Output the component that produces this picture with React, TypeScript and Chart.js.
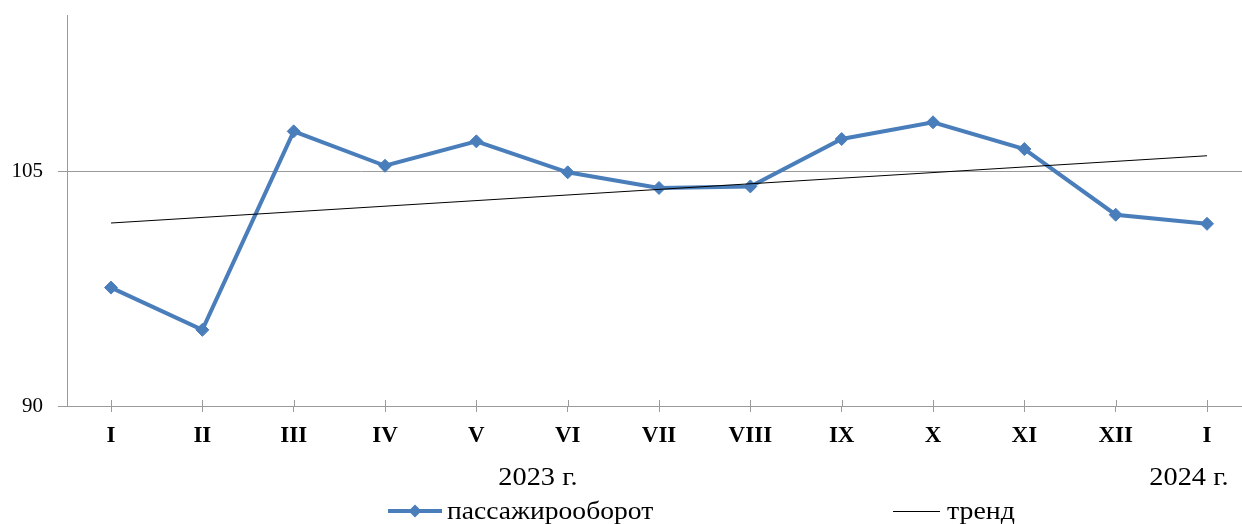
import React, { useEffect, useRef } from 'react';
import { Chart, registerables } from 'chart.js';

Chart.register(...registerables);

// ---- data ----
const months = ['I', 'II', 'III', 'IV', 'V', 'VI', 'VII', 'VIII', 'IX', 'X', 'XI', 'XII', 'I'];
const passengerTurnover = [97.57, 94.87, 107.56, 105.36, 106.92, 104.94, 103.94, 104.04, 107.07, 108.14, 106.43, 102.23, 101.65];
const trendEnds = [101.7, 106.0];
const yTickValues = [90, 105];
const yearLabels = ['2023 г.', '2024 г.'];
const seriesNames = ['пассажирооборот', 'тренд'];

// ---- style ----
const BLUE = '#4A7EBB';
const GRID = '#9b9b9b';
const SERIF = '"Liberation Serif", "Times New Roman", serif';

function stretchedText(ctx: CanvasRenderingContext2D, text: string, x: number, y: number, sx: number, align: 'left' | 'center') {
  ctx.save();
  ctx.translate(x, y);
  ctx.scale(sx, 1);
  ctx.textAlign = align;
  ctx.fillText(text, 0, 0);
  ctx.restore();
}

const decorPlugin = {
  id: 'decor',
  beforeDatasetsDraw(chart: any) {
    const { ctx, chartArea } = chart;
    const x = chart.scales.x;
    ctx.save();
    ctx.strokeStyle = GRID;
    ctx.lineWidth = 1;
    x.ticks.forEach((t: any) => {
      const px = Math.round(x.getPixelForValue(t.value)) + 0.5;
      ctx.beginPath();
      ctx.moveTo(px, chartArea.bottom - 6);
      ctx.lineTo(px, chartArea.bottom);
      ctx.stroke();
    });
    ctx.restore();
  },
  afterDraw(chart: any) {
    const { ctx } = chart;
    ctx.save();
    ctx.fillStyle = '#000';
    ctx.textBaseline = 'alphabetic';
    ctx.font = `26px ${SERIF}`;
    stretchedText(ctx, yearLabels[0], 538, 485, 1.09, 'center');
    stretchedText(ctx, yearLabels[1], 1189, 485, 1.09, 'center');

    // legend
    const ly = 511;
    ctx.strokeStyle = BLUE;
    ctx.lineWidth = 4;
    ctx.beginPath();
    ctx.moveTo(388, ly);
    ctx.lineTo(442, ly);
    ctx.stroke();
    ctx.fillStyle = BLUE;
    const r = 6.5;
    ctx.beginPath();
    ctx.moveTo(415 - r, ly);
    ctx.lineTo(415, ly - r);
    ctx.lineTo(415 + r, ly);
    ctx.lineTo(415, ly + r);
    ctx.closePath();
    ctx.fill();

    ctx.strokeStyle = '#000';
    ctx.lineWidth = 1;
    ctx.beginPath();
    ctx.moveTo(893, ly + 0.5);
    ctx.lineTo(940, ly + 0.5);
    ctx.stroke();

    ctx.fillStyle = '#000';
    stretchedText(ctx, seriesNames[0], 447, 519, 1.06, 'left');
    stretchedText(ctx, seriesNames[1], 947, 519, 1.07, 'left');
    ctx.restore();
  },
};

export default function App() {
  const ref = useRef<HTMLCanvasElement | null>(null);

  useEffect(() => {
    if (!ref.current) return;
    const last = months.length - 1;
    const chart = new Chart(ref.current, {
      type: 'line',
      data: {
        datasets: [
          {
            label: seriesNames[0],
            data: passengerTurnover.map((v, i) => ({ x: i, y: v })),
            borderColor: BLUE,
            backgroundColor: BLUE,
            borderWidth: 4,
            pointStyle: 'rectRot',
            pointRadius: 6.5,
            pointBorderWidth: 1,
            pointBackgroundColor: BLUE,
            pointBorderColor: BLUE,
            tension: 0,
            order: 2,
          },
          {
            label: seriesNames[1],
            data: [
              { x: 0, y: trendEnds[0] },
              { x: last, y: trendEnds[1] },
            ],
            borderColor: '#000',
            borderWidth: 1,
            pointRadius: 0,
            tension: 0,
            order: 1,
          },
        ],
      },
      options: {
        responsive: false,
        animation: false,
        devicePixelRatio: 1,
        layout: { autoPadding: false, padding: { top: 15, left: 0, right: 0, bottom: 0 } },
        plugins: { legend: { display: false }, tooltip: { enabled: false } },
        scales: {
          x: {
            type: 'linear',
            bounds: 'data',
            min: -0.482,
            max: last + 0.383,
            afterBuildTicks: (s: any) => {
              s.ticks = months.map((_, i) => ({ value: i }));
            },
            afterFit: (s: any) => {
              s.height = 118;
              s.paddingLeft = 0;
              s.paddingRight = 0;
            },
            ticks: {
              autoSkip: false,
              maxRotation: 0,
              padding: 10,
              color: '#000',
              font: { family: SERIF, size: 23, weight: 'bold' },
              callback: (v: any) => months[v as number] ?? '',
            },
            grid: {
              display: true,
              drawOnChartArea: false,
              drawTicks: true,
              tickLength: 6,
              color: GRID,
            },
            border: { display: true, color: GRID, width: 1 },
          },
          y: {
            type: 'linear',
            min: 90,
            max: 115,
            afterBuildTicks: (s: any) => {
              s.ticks = yTickValues.map((v) => ({ value: v }));
            },
            afterFit: (s: any) => {
              s.width = 67;
              s.paddingTop = 0;
              s.paddingBottom = 0;
            },
            ticks: {
              padding: 15,
              color: '#000',
              font: { family: SERIF, size: 21 },
              callback: (v: any) => String(v),
            },
            grid: {
              color: GRID,
              tickLength: 9,
              drawTicks: true,
            },
            border: { display: true, color: GRID, width: 1 },
          },
        },
      },
      plugins: [decorPlugin],
    });
    return () => chart.destroy();
  }, []);

  return (
    <div style={{ position: 'fixed', left: 0, top: 0, width: 1242, height: 524, background: '#fff' }}>
      <canvas ref={ref} width={1242} height={524} style={{ display: 'block' }} />
    </div>
  );
}
